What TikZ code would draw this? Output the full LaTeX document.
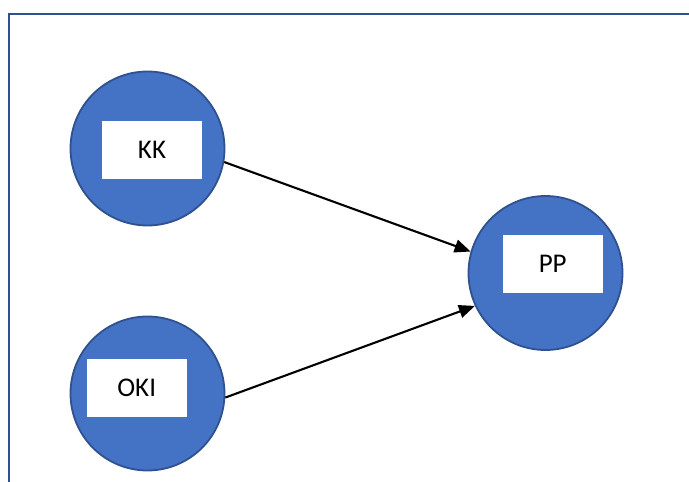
\documentclass[tikz,border=0pt]{standalone}
\usepackage{fontspec}
\setmainfont{Carlito}
\usetikzlibrary{arrows.meta,positioning}
\definecolor{fillblue}{HTML}{4472C4}
\definecolor{edgeblue}{HTML}{2F528F}
\begin{document}
\begin{tikzpicture}[
            x=1pt, y=1pt,
            var/.style={circle, draw=edgeblue, line width=1.8pt, fill=fillblue, minimum size=154pt, inner sep=0pt},
            lbl/.style={fill=white, minimum width=100pt, minimum height=58pt, inner sep=0pt, font=\fontsize{27}{31}\selectfont},
            arrow/.style={-{Triangle[length=16pt,width=13pt]}, line width=2.1pt}
        ]
        \useasboundingbox (0,0) rectangle (689,482);
        % frame, only top and left edge visible
        \draw[edgeblue, line width=2.6pt] (9,-10) -- (9,468) -- (700,468);
        \node[var] (kk) at (147.5,333.5) {};
        \node[var] (oki) at (147.5,88.5) {};
        \node[var] (pp) at (545.5,209) {};
        \node[lbl] (kkl) at (152,332) {KK};
        \node[lbl] (okil) at (136.7,94) {OKI};
        \node[lbl] (ppl) at (552.7,218) {PP};
        \draw[arrow] (kk.-10) -- (pp.164);
        \draw[arrow] (oki.-3) -- (pp.205);
        \end{tikzpicture}
\end{document}
